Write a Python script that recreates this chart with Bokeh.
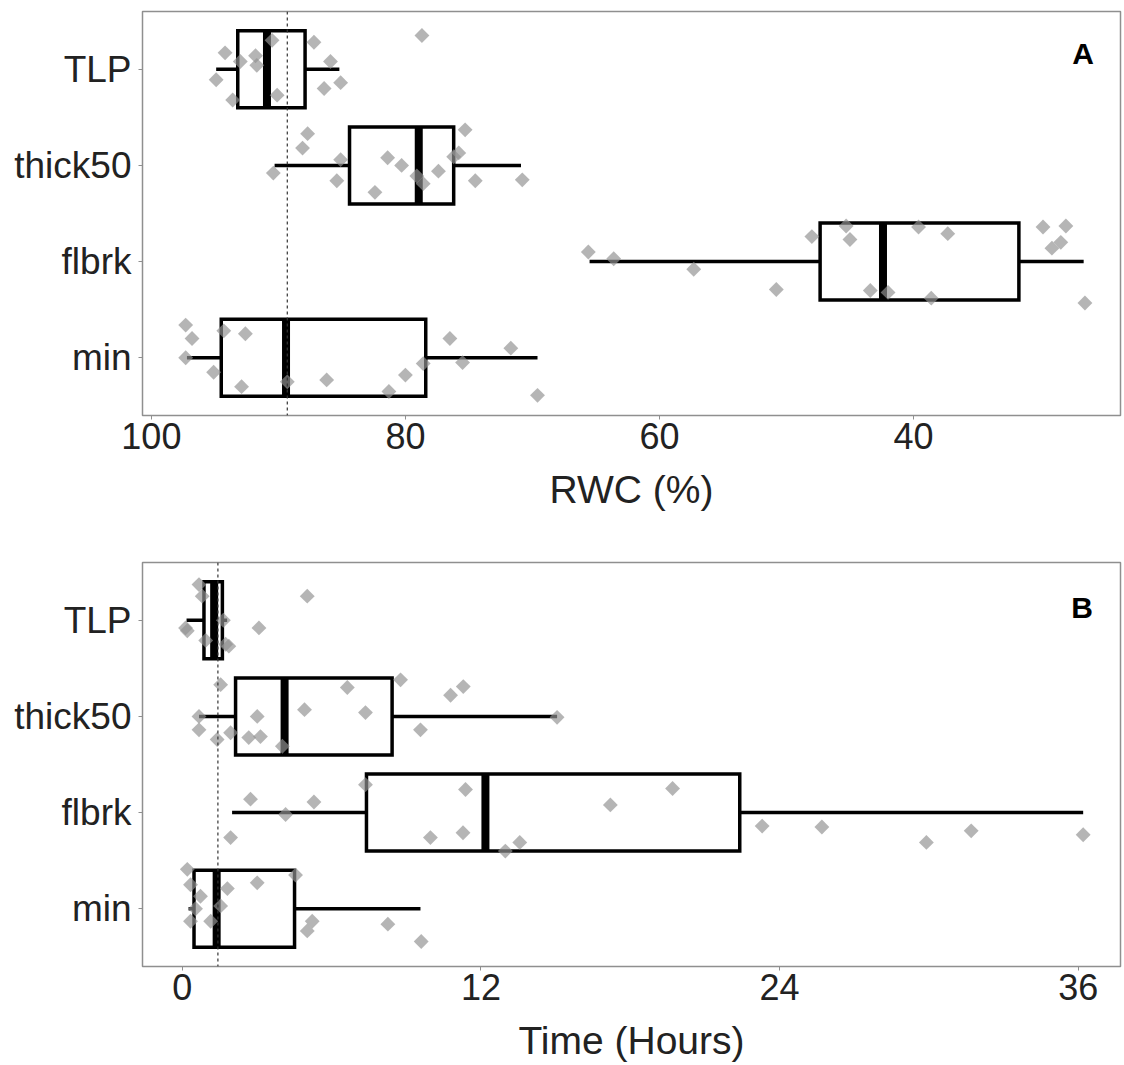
import math
from bokeh.plotting import figure
from bokeh.models import ColumnDataSource, Range1d, FixedTicker, Span, Label
from bokeh.layouts import column
from bokeh.embed import file_html
from bokeh.resources import INLINE

# ---------------- data ----------------
categories = ["TLP", "thick50", "flbrk", "min"]      # top to bottom
cat_pos = [4, 3, 2, 1]

# Panel A : RWC (%)
rwc_low_whisker = [85.2, 70.9, 26.6, 69.6]
rwc_q1 = [87.9, 76.2, 31.7, 78.4]
rwc_median = [90.9, 78.95, 42.4, 89.4]
rwc_q3 = [93.2, 84.4, 47.35, 94.5]
rwc_high_whisker = [94.9, 90.3, 65.5, 97.2]
rwc_reference = 89.3

rwc_TLP = [78.7, 94.2, 91.8, 91.7, 94.9, 93.6, 90.5, 87.2, 85.9, 85.1, 86.4, 90.1, 93.0]
rwc_TLP_jit = [0.35, 0.17, 0.14, 0.04, -0.11, -0.32, 0.30, 0.28, 0.08, -0.14, -0.20, -0.27, 0.08]
rwc_thick50 = [87.7, 88.1, 90.4, 85.1, 85.4, 82.4, 81.4, 80.3, 79.1, 78.6, 77.4, 75.8, 75.3, 74.5, 70.8, 76.2]
rwc_thick50_jit = [0.33, 0.18, -0.08, 0.06, -0.16, -0.28, 0.08, 0.0, -0.11, -0.19, -0.06, 0.13, 0.37, -0.16, -0.15, 0.09]
rwc_flbrk = [65.6, 63.6, 57.3, 50.8, 48.0, 45.3, 45.0, 43.4, 42.0, 39.6, 37.3, 38.6, 29.8, 28.0, 29.1, 28.4, 26.5]
rwc_flbrk_jit = [0.10, 0.03, -0.08, -0.29, 0.26, 0.37, 0.23, -0.30, -0.32, 0.36, 0.29, -0.38, 0.36, 0.37, 0.14, 0.20, -0.43]
rwc_min = [97.3, 96.8, 97.3, 95.1, 94.3, 92.6, 92.9, 89.3, 86.2, 81.3, 80.0, 78.6, 76.5, 75.5, 71.7, 69.6]
rwc_min_jit = [0.34, 0.20, 0.0, -0.15, 0.28, 0.25, -0.30, -0.25, -0.23, -0.35, -0.18, -0.06, 0.20, -0.05, 0.10, -0.39]

# Panel B : Time (Hours)
time_low_whisker = [0.17, 0.67, 2.0, 0.25]
time_q1 = [0.87, 2.14, 7.4, 0.47]
time_median = [1.28, 4.11, 12.18, 1.38]
time_q3 = [1.61, 8.43, 22.4, 4.51]
time_high_whisker = [1.8, 15.06, 36.2, 9.57]
time_reference = 1.43

time_TLP = [0.67, 0.8, 5.02, 0.13, 0.2, 3.08, 1.74, 1.87, 1.65, 0.94]
time_TLP_jit = [0.37, 0.25, 0.25, -0.08, -0.11, -0.08, -0.25, -0.27, 0.0, -0.21]
time_thick50 = [1.54, 6.63, 8.77, 10.78, 11.29, 0.67, 3.01, 4.91, 7.36, 0.67, 1.94, 2.67, 3.14, 1.4, 9.57, 15.06, 4.02]
time_thick50_jit = [0.33, 0.30, 0.38, 0.22, 0.31, 0.0, 0.0, 0.07, 0.04, -0.14, -0.17, -0.22, -0.21, -0.24, -0.14, -0.01, -0.31]
time_flbrk = [2.74, 1.94, 4.15, 5.29, 7.36, 11.38, 9.97, 11.28, 12.98, 13.56, 17.2, 19.7, 23.3, 25.7, 29.9, 31.7, 36.2]
time_flbrk_jit = [0.14, -0.26, -0.02, 0.11, 0.29, 0.24, -0.26, -0.21, -0.40, -0.31, 0.08, 0.25, -0.14, -0.15, -0.31, -0.19, -0.23]
time_min = [0.2, 0.33, 0.73, 1.81, 3.01, 4.55, 0.33, 1.14, 1.54, 5.22, 5.02, 8.26, 9.6, 0.53]
time_min_jit = [0.41, 0.25, 0.13, 0.21, 0.27, 0.35, -0.13, -0.13, 0.03, -0.13, -0.23, -0.16, -0.34, 0.0]

rwc_ticks = [100, 80, 60, 40]
time_ticks = [0, 12, 24, 36]

FONT = "Liberation Sans"
TEXT_COLOR = "#222222"
BOX_HALF = 0.4


def make_panel(title_letter, x_range, ticks, x_label, lw, q1, med, q3, hw,
               point_sets, ref, letter_xy, height, top, bottom):
    p = figure(width=1124, height=height, x_range=x_range,
               y_range=Range1d(0.4, 4.6), output_backend="svg",
               toolbar_location=None, min_border_left=142,
               min_border_right=4, min_border_top=top,
               min_border_bottom=bottom)
    p.background_fill_color = "white"
    p.border_fill_color = "white"
    p.outline_line_color = "#8f8f8f"
    p.outline_line_width = 1.5
    p.xgrid.visible = False
    p.ygrid.visible = False

    # reference line
    p.add_layout(Span(location=ref, dimension="height", line_color="#333333",
                      line_width=1.2, line_dash="3 3"))

    lo_box = [y - BOX_HALF for y in cat_pos]
    hi_box = [y + BOX_HALF for y in cat_pos]
    src = ColumnDataSource(dict(y=cat_pos, lw=lw, q1=q1, med=med, q3=q3,
                                hw=hw, lo=lo_box, hi=hi_box))
    # whiskers
    p.segment(x0="lw", y0="y", x1="q1", y1="y", source=src,
              line_color="black", line_width=3.5)
    p.segment(x0="q3", y0="y", x1="hw", y1="y", source=src,
              line_color="black", line_width=3.5)
    # boxes
    p.quad(left="q1", right="q3", bottom="lo", top="hi", source=src,
           fill_color="white", fill_alpha=0.0, line_color="black",
           line_width=3.5, line_join="miter")
    # median
    p.segment(x0="med", y0="lo", x1="med", y1="hi", source=src,
              line_color="black", line_width=8, line_cap="butt")

    # points
    xs, ys = [], []
    for pos, (vals, jit) in zip(cat_pos, point_sets):
        xs.extend(vals)
        ys.extend([pos + j for j in jit])
    p.scatter(x=xs, y=ys, marker="square", size=10.5, angle=math.pi / 4,
              fill_color="#929292", fill_alpha=0.68, line_color=None)

    p.add_layout(Label(x=letter_xy[0], y=letter_xy[1], text=title_letter,
                       text_font=FONT, text_font_style="bold",
                       text_font_size="30px", text_align="center",
                       text_baseline="middle", text_color="black"))

    # axes
    p.xaxis.ticker = FixedTicker(ticks=ticks)
    p.xaxis.minor_tick_line_color = None
    p.xaxis.axis_line_color = None
    p.xaxis.major_tick_line_color = "#8f8f8f"
    p.xaxis.major_tick_in = 0
    p.xaxis.major_tick_out = 4
    p.xaxis.major_label_standoff = 3
    p.xaxis.major_label_text_font = FONT
    p.xaxis.major_label_text_font_size = "36px"
    p.xaxis.major_label_text_color = TEXT_COLOR
    p.xaxis.axis_label = x_label
    p.xaxis.axis_label_text_font = FONT
    p.xaxis.axis_label_text_font_size = "39px"
    p.xaxis.axis_label_text_font_style = "normal"
    p.xaxis.axis_label_text_color = TEXT_COLOR
    p.xaxis.axis_label_standoff = 16

    p.yaxis.ticker = FixedTicker(ticks=cat_pos)
    p.yaxis.major_label_overrides = {pos: c for pos, c in zip(cat_pos, categories)}
    p.yaxis.minor_tick_line_color = None
    p.yaxis.axis_line_color = None
    p.yaxis.major_tick_line_color = "#8f8f8f"
    p.yaxis.major_tick_in = 0
    p.yaxis.major_tick_out = 4
    p.yaxis.major_label_standoff = 7
    p.yaxis.major_label_text_font = FONT
    p.yaxis.major_label_text_font_size = "37px"
    p.yaxis.major_label_text_color = TEXT_COLOR
    return p


pA = make_panel("A", Range1d(100.7, 23.7), rwc_ticks, "RWC (%)",
                rwc_low_whisker, rwc_q1, rwc_median, rwc_q3, rwc_high_whisker,
                [(rwc_TLP, rwc_TLP_jit), (rwc_thick50, rwc_thick50_jit),
                 (rwc_flbrk, rwc_flbrk_jit), (rwc_min, rwc_min_jit)],
                rwc_reference, (26.65, 4.16), 530, 11, 115)

pB = make_panel("B", Range1d(-1.6, 37.7), time_ticks, "Time (Hours)",
                time_low_whisker, time_q1, time_median, time_q3, time_high_whisker,
                [(time_TLP, time_TLP_jit), (time_thick50, time_thick50_jit),
                 (time_flbrk, time_flbrk_jit), (time_min, time_min_jit)],
                time_reference, (36.16, 4.13), 535, 32, 99)

layout = column(pA, pB, spacing=0)
open("out.html", "w").write(file_html(layout, INLINE))
